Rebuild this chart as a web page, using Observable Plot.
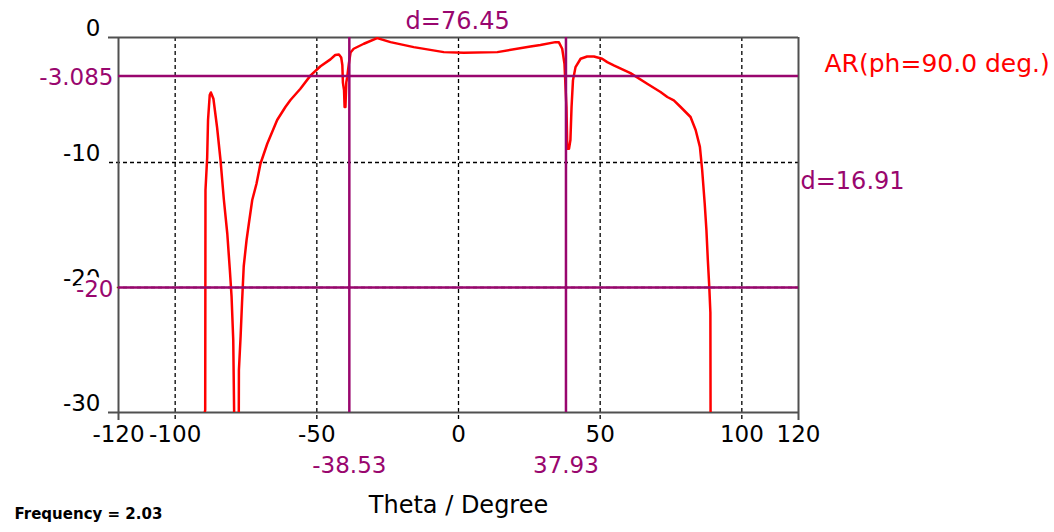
<!DOCTYPE html>
<html><head><meta charset="utf-8">
<script src="https://cdn.jsdelivr.net/npm/d3@7"></script>
<script src="https://cdn.jsdelivr.net/npm/@observablehq/plot@0.6"></script>
<style>html,body{margin:0;padding:0;background:#fff;overflow:hidden}</style>
</head><body><div id="chart"></div>
<script>
const theta = [-90.3, -89.4, -89.3, -88.7, -88.4, -87.8, -87.4, -86.5, -85.2, -84.0, -82.8, -81.6, -80.7, -80.1, -79.5, -79.2, -79.0,
  -77.6, -77.5, -76.9, -76.4, -75.8, -74.8, -74.0, -72.8, -71.3, -69.9, -67.5, -64.0, -61.1, -59.3, -55.8, -52.2, -48.7, -45.2, -43.5,
  -42.2, -41.4, -41.0, -40.8, -40.4, -40.2, -39.9, -39.6, -39.3, -38.7, -38.1, -37.0, -33.4, -28.7, -24.0, -15.8, -5.2, 1.9, 13.7,
  25.4, 28.9, 34.2, 35.4, 36.6, 37.4, 38.1, 38.4, 39.0, 39.5, 39.9, 40.4, 41.3, 43.1, 45.4, 47.8, 50.7, 52.5, 54.8, 60.7, 66.6,
  71.3, 73.7, 76.0, 78.4, 81.9, 83.7, 85.2, 86.0, 86.9, 87.5, 88.0, 88.5, 88.9, 89.0];
const arDb = [-31, -29.8, -12.2, -9.6, -6.6, -4.6, -4.4, -4.9, -7.2, -9.8, -13.0, -15.7, -18.6, -20.7, -24.2, -29.8, -35,
  -35, -26.6, -23.9, -21.2, -18.3, -16.2, -14.9, -13.0, -11.7, -10.1, -8.5, -6.6, -5.56, -5.0, -4.1, -3.03, -2.3, -1.75, -1.4,
  -1.36, -1.6, -2.2, -3.6, -4.2, -5.56, -5.56, -3.6, -3.2, -2.1, -1.2, -0.9, -0.5, -0.05, -0.37, -0.77, -1.17, -1.22, -1.17,
  -0.72, -0.6, -0.37, -0.37, -0.9, -2.1, -5.56, -8.9, -8.9, -8.2, -5.56, -3.43, -2.37, -1.7, -1.52, -1.52, -1.7, -1.97, -2.23, -2.85, -3.7,
  -4.36, -4.76, -5.03, -5.56, -6.36, -7.4, -8.75, -10.6, -13.3, -15.4, -17.8, -19.9, -22, -35];

const xTickLabels = [-120, -100, -50, 0, 50, 100, 120];
const yTickLabels = [0, -10, -20, -30];
const xGridValues = [-100, -50, 0, 50, 100];
const yGridValues = [-10, -20];
const xFrame = [-120, 120];
const yFrame = [0, -30];
const markerX = [-38.53, 37.93];
const markerY = [-3.085, -20];
const deltaXLabel = "d=76.45";
const deltaYLabel = "d=16.91";
const seriesName = "AR(ph=90.0 deg.)";
const xLabel = "Theta / Degree";
const caption = "Frequency = 2.03";

const data = theta.map((t, i) => ({theta: t, ar: arDb[i]}));
const PURPLE = "#99066e";
const FRAME = "#505050";
const FONT = "DejaVu Sans";

const chart = Plot.plot({
  width: 1054,
  height: 532,
  marginLeft: 118,
  marginRight: 256,
  marginTop: 37,
  marginBottom: 120,
  style: {fontFamily: FONT, background: "#fff", overflow: "visible"},
  x: {domain: [-120, 120], axis: null},
  y: {domain: [-30, 0], axis: null},
  marks: [
    Plot.ruleX(xGridValues, {x: d => d, stroke: "#000", strokeWidth: 1.3, strokeDasharray: "4,3", insetBottom: -10}),
    Plot.ruleY(yGridValues, {y: d => d, stroke: "#000", strokeWidth: 1.3, strokeDasharray: "4,3", insetLeft: -9}),
    Plot.ruleY(yFrame, {y: d => d, stroke: FRAME, strokeWidth: 2, insetLeft: -10}),
    Plot.ruleX(xFrame, {x: d => d, stroke: FRAME, strokeWidth: 2, insetBottom: -8}),
    Plot.text(yTickLabels, {y: d => d, text: d => String(d), frameAnchor: "left", textAnchor: "end", dx: -18, dy: -9, fontSize: 23, fill: "#000"}),
    Plot.text(xTickLabels, {x: d => d, text: d => String(d), frameAnchor: "bottom", dy: 29, fontSize: 23, fill: "#000"}),
    Plot.line(data, {x: "theta", y: "ar", stroke: "#ff0000", strokeWidth: 2.5, clip: true}),
    Plot.ruleY(markerY, {y: d => d, stroke: PURPLE, strokeWidth: 2.5}),
    Plot.ruleX(markerX, {x: d => d, stroke: PURPLE, strokeWidth: 2.5}),
    Plot.text(markerY, {y: d => d, text: d => String(d), frameAnchor: "left", textAnchor: "end", dx: -5, dy: 2, fontSize: 23, fill: PURPLE, stroke: "#fff", strokeWidth: 10}),
    Plot.text(markerX, {x: d => d, text: d => String(d), frameAnchor: "bottom", dy: 60, fontSize: 23, fill: PURPLE}),
    Plot.text([deltaXLabel], {x: d3.mean(markerX), y: 0, text: d => d, dy: -16, fontSize: 24, fill: PURPLE}),
    Plot.text([deltaYLabel], {x: 120, y: d3.mean(markerY), text: d => d, textAnchor: "start", dx: 2, fontSize: 24, fill: PURPLE}),
    Plot.text([seriesName], {text: d => d, frameAnchor: "top-right", textAnchor: "start", dx: 26, dy: 17, fontSize: 25, fill: "#ff0000"}),
    Plot.text([xLabel], {text: d => d, frameAnchor: "bottom", dy: 100, fontSize: 24, fill: "#000"}),
    Plot.text([caption], {text: d => d, frameAnchor: "bottom-left", textAnchor: "start", dx: -104, dy: 106, fontSize: 15, fontWeight: "bold", fill: "#000"})
  ]
});
document.getElementById("chart").append(chart);
</script>
</body></html>
